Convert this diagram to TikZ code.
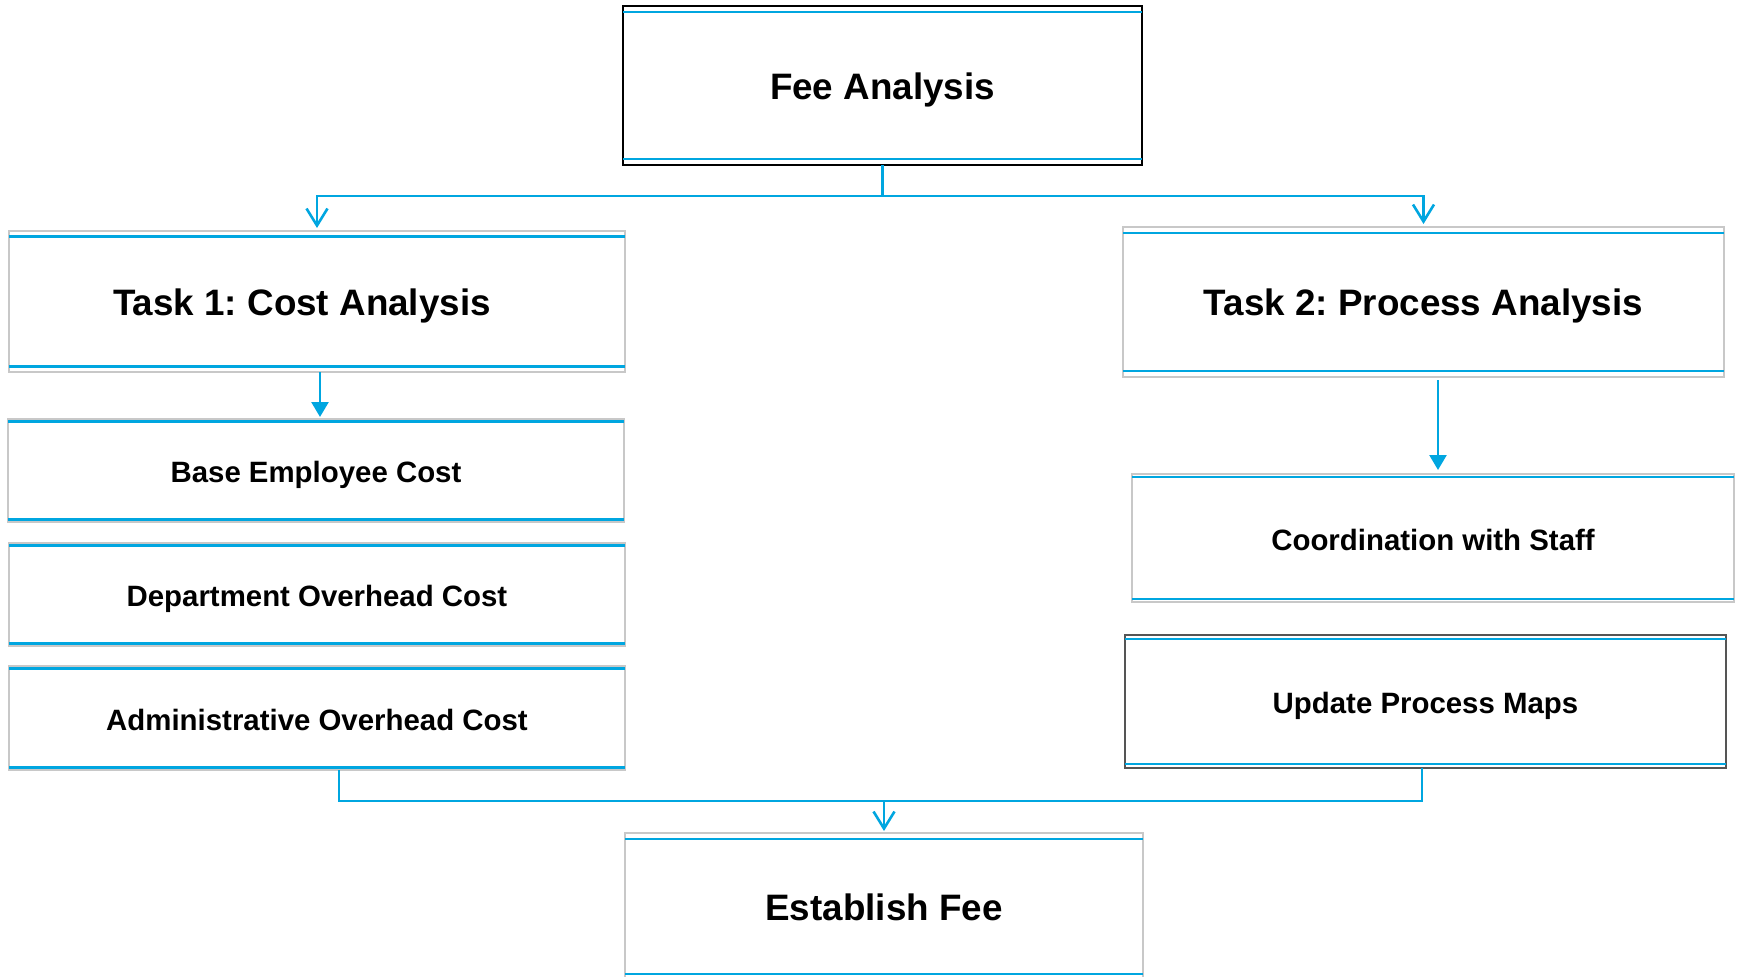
\documentclass[tikz,border=0pt]{standalone}
\usepackage{fontspec}
\setmainfont{Liberation Sans}
\usetikzlibrary{arrows.meta,calc}
\definecolor{cblue}{RGB}{0,166,224}
\definecolor{bgray}{RGB}{200,200,200}
\definecolor{dgray}{RGB}{85,85,85}
\frenchspacing
\begin{document}
\begin{tikzpicture}[x=1pt,y=-1pt,
  box/.style={rectangle, draw=bgray, line width=1.5pt, inner sep=0pt, outer sep=0pt,
    text height=24.5pt, text depth=0pt,
    font=\bfseries\fontsize{29.4}{35}\selectfont},
  big/.style={text height=27.5pt, font=\bfseries\fontsize{36.8}{44}\selectfont},
  conn/.style={draw=cblue, line width=2.6pt},
  vtip/.style={-{Straight Barb[length=17pt,width=21pt]}},
  ttip/.style={-{Triangle[length=15pt,width=17pt]}},
  blueline/.style={draw=cblue, line width=2.2pt}]
\useasboundingbox (0,0) rectangle (1738,977);
\clip (0,0) rectangle (1738,977);

\node[box,big,draw=black,line width=2pt,minimum width=519pt,minimum height=159pt] (fee) at (882.5,85.5) {Fee Analysis};
\node[box,big,minimum width=616pt,minimum height=141pt] (t1) at (317,301.5) {\hspace*{-30pt}Task 1: Cost Analysis};
\node[box,minimum width=616pt,minimum height=103pt] (base) at (316,470.5) {Base Employee Cost};
\node[box,minimum width=616pt,minimum height=103pt] (dept) at (317,594.5) {Department Overhead Cost};
\node[box,minimum width=616pt,minimum height=104pt] (admin) at (317,718) {Administrative Overhead Cost};
\node[box,big,minimum width=601pt,minimum height=150pt] (t2) at (1423.5,302) {Task 2: Process Analysis};
\node[box,minimum width=602pt,minimum height=128pt] (coord) at (1433,538) {Coordination with Staff};
\node[box,draw=dgray,minimum width=601pt,minimum height=133pt] (upd) at (1425.5,701.5) {Update Process Maps};
\node[box,big,minimum width=518pt,minimum height=147pt] (est) at (884,906.5) {Establish Fee};

\foreach \n/\i in {fee/6pt,t1/5.5pt,base/2.5pt,dept/2.5pt,admin/2.5pt,t2/6pt,coord/3pt,upd/4pt,est/6pt}{
  \draw[blueline] ([yshift=-\i]\n.north west) -- ([yshift=-\i]\n.north east);
  \draw[blueline] ([yshift=\i]\n.south west) -- ([yshift=\i]\n.south east);
}

\coordinate (ftop) at (882.5,196);
\draw[conn,vtip,shorten >=3pt] (fee.south) -- (ftop) -| (t1.north);
\draw[conn,vtip,shorten >=3pt] (ftop) -| (t2.north);

\coordinate (ax1) at (320,0);
\draw[conn,ttip,shorten >=2pt] (t1.south -| ax1) -- (base.north -| ax1);
\coordinate (ax2) at (1438,0);
\draw[conn,ttip,shorten >=4pt,shorten <=3pt] (t2.south -| ax2) -- (coord.north -| ax2);

\coordinate (bl) at (339,801);
\coordinate (br) at (1422,801);
\coordinate (bm) at (884,801);
\draw[conn] (admin.south -| bl) -- (bl) -- (br) -- (upd.south -| br);
\draw[conn,vtip,shorten >=2pt] (bm) -- (est.north);
\end{tikzpicture}
\end{document}
